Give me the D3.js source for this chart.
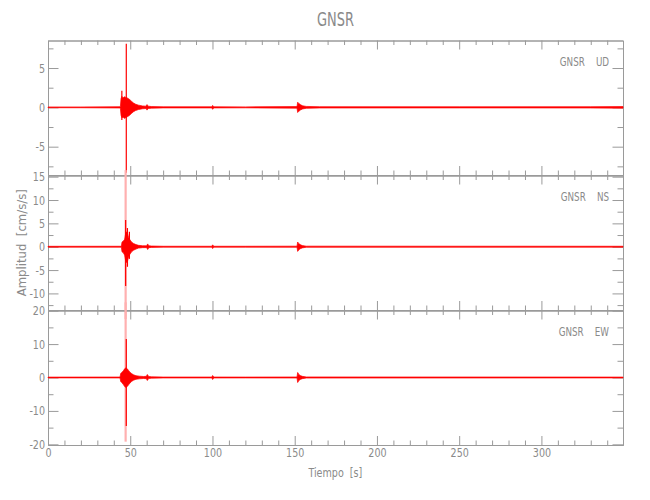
<!DOCTYPE html>
<html><head><meta charset="utf-8">
<script src="https://cdn.jsdelivr.net/npm/d3@7"></script>
<style>
body{margin:0;background:#fff}
svg text{font-family:"DejaVu Sans Condensed","DejaVu Sans",sans-serif;}
.sx{transform-box:fill-box;}
</style></head><body><svg id="c" width="650" height="500"></svg>
<script>
// ---------------- data ----------------
const stationName = "GNSR";
const componentNames = ["UD", "NS", "EW"];
const xLabel = "Tiempo  [s]";
const yLabel = "Amplitud  [cm/s/s]";
const timeDomain = [0, 349.6];
const xMajorTicks = [0, 50, 100, 150, 200, 250, 300];
const xMinorTicks = [10, 20, 30, 40, 60, 70, 80, 90, 110, 120, 130, 140, 160, 170, 180, 190, 210, 220, 230, 240, 260, 270, 280, 290, 310, 320, 330, 340];

const udDomain = [-8.6, 8.5];
const nsDomain = [-13.55, 15.25];
const ewDomain = [-20.2, 20.05];
const udMajorTicks = [-5, 0, 5];
const nsMajorTicks = [-10, -5, 0, 5, 10, 15];
const ewMajorTicks = [-20, -10, 0, 10, 20];
const udMinorTicks = [-7.5, -2.5, 2.5, 7.5];
const nsMinorTicks = [-12.5, -7.5, -2.5, 2.5, 7.5, 12.5];
const ewMinorTicks = [-15, -5, 5, 15];

// envelope of each trace (seconds, cm/s/s)
const udTime  = [0, 20, 44.0, 44.4, 44.9, 45.6, 46.3, 46.9, 47.5, 48.2, 49.0, 49.9, 50.9, 52.0, 53.3, 55.0, 57.5, 59.6, 60.2, 60.9, 63, 70, 99.6, 100.1, 100.8, 120, 151.4, 151.8, 152.5, 153.4, 154.8, 157, 165, 250, 330, 349.6];
const udUpper = [0.05, 0.05, 0.08, 1.1, 1.4, 1.2, 1.35, 1.3, 1.25, 1.2, 1.1, 0.95, 0.75, 0.55, 0.4, 0.28, 0.18, 0.15, 0.35, 0.15, 0.1, 0.07, 0.07, 0.25, 0.07, 0.06, 0.1, 0.65, 0.5, 0.35, 0.2, 0.12, 0.08, 0.07, 0.08, 0.1];
const udLower = [-0.05, -0.05, -0.08, -1.0, -1.3, -1.25, -1.4, -1.35, -1.3, -1.2, -1.1, -0.95, -0.75, -0.55, -0.4, -0.28, -0.18, -0.15, -0.35, -0.15, -0.1, -0.07, -0.07, -0.25, -0.07, -0.06, -0.1, -0.65, -0.5, -0.35, -0.2, -0.12, -0.08, -0.07, -0.08, -0.1];

const nsTime  = [0, 44.6, 45.0, 45.8, 46.6, 47.2, 47.8, 48.4, 49.0, 49.8, 50.8, 52, 53.5, 55, 57.5, 60, 60.6, 61.3, 63, 70, 99.6, 100.1, 100.8, 120, 151.4, 151.8, 152.4, 153.3, 154.6, 157, 349.6];
const nsUpper = [0.09, 0.1, 1.0, 1.2, 1.6, 2.8, 3.2, 2.8, 2.0, 1.5, 1.0, 0.7, 0.45, 0.3, 0.2, 0.2, 0.6, 0.2, 0.15, 0.1, 0.1, 0.4, 0.1, 0.1, 0.12, 1.0, 0.7, 0.45, 0.25, 0.12, 0.1];
const nsLower = [-0.09, -0.1, -1.1, -1.3, -1.8, -3.0, -3.4, -3.0, -2.2, -1.6, -1.1, -0.75, -0.5, -0.3, -0.2, -0.2, -0.6, -0.2, -0.15, -0.1, -0.1, -0.4, -0.1, -0.1, -0.12, -1.0, -0.7, -0.45, -0.25, -0.12, -0.1];

const ewTime  = [0, 43.8, 44.2, 45.0, 45.8, 46.6, 47.4, 48.2, 49.0, 49.8, 50.8, 52, 53.5, 55.5, 58, 59.8, 60.4, 61.2, 63, 70, 99.6, 100.1, 100.8, 120, 151.4, 151.8, 152.4, 153.3, 154.6, 157, 349.6];
const ewUpper = [0.12, 0.14, 1.2, 1.6, 2.0, 2.6, 2.9, 2.6, 2.1, 1.6, 1.2, 0.8, 0.55, 0.4, 0.3, 0.35, 0.9, 0.3, 0.2, 0.14, 0.14, 0.6, 0.14, 0.13, 0.15, 1.5, 1.0, 0.6, 0.35, 0.16, 0.13];
const ewLower = [-0.12, -0.14, -1.2, -1.6, -2.1, -2.7, -3.0, -2.7, -2.2, -1.7, -1.2, -0.8, -0.55, -0.4, -0.3, -0.35, -0.9, -0.3, -0.2, -0.14, -0.14, -0.6, -0.14, -0.13, -0.15, -1.5, -1.0, -0.6, -0.35, -0.16, -0.13];

// peak excursions (seconds, max, min)
const udPeakTime = [44.9, 47.6];
const udPeakMax  = [2.1, 8.1];
const udPeakMin  = [-1.6, -8.3];
const nsPeakTime = [47.2, 48.3, 49.5];
const nsPeakMax  = [5.7, 4.0, 3.2];
const nsPeakMin  = [-8.4, -4.3, -2.6];
const ewPeakTime = [47.6];
const ewPeakMax  = [11.5];
const ewPeakMin  = [-14.5];
// single-sample excursions
const nsSampleTime = [47.2];
const nsSampleMax  = [16.4];
const nsSampleMin  = [-15.5];
const ewSampleTime = [47.2];
const ewSampleMax  = [22.5];
const ewSampleMin  = [-19.2];

// --------------- drawing ---------------
const left = 48, right = 623;
const panelTops = [40.5, 175.5, 310.5];
const panelH = 134.5;
const axisColor = "#9a9a9a", textColor = "#8a8a8a", red = "#ff0000", pale = "#ffb0b0";

const svg = d3.select("#c");
const x = d3.scaleLinear().domain(timeDomain).range([left, right]);

const panels = [
  {name: componentNames[0], domain: udDomain, major: udMajorTicks, minor: udMinorTicks,
   t: udTime, up: udUpper, lo: udLower, pt: udPeakTime, pmax: udPeakMax, pmin: udPeakMin,
   st: [], smax: [], smin: []},
  {name: componentNames[1], domain: nsDomain, major: nsMajorTicks, minor: nsMinorTicks,
   t: nsTime, up: nsUpper, lo: nsLower, pt: nsPeakTime, pmax: nsPeakMax, pmin: nsPeakMin,
   st: nsSampleTime, smax: nsSampleMax, smin: nsSampleMin},
  {name: componentNames[2], domain: ewDomain, major: ewMajorTicks, minor: ewMinorTicks,
   t: ewTime, up: ewUpper, lo: ewLower, pt: ewPeakTime, pmax: ewPeakMax, pmin: ewPeakMin,
   st: ewSampleTime, smax: ewSampleMax, smin: ewSampleMin}
];

const fmt = d => d3.format("d")(d).replace("\u2212", "-");
const squeeze = (sel, s, origin) => sel.classed("sx", true)
  .style("transform-origin", origin).style("transform", `scaleX(${s})`);

panels.forEach((p, i) => {
  const top = panelTops[i], bot = top + panelH;
  const y = d3.scaleLinear().domain(p.domain).range([bot, top]);
  const g = svg.append("g");
  const isLast = i === panels.length - 1;

  const style = sel => {
    sel.attr("color", axisColor);
    sel.selectAll("text").attr("fill", textColor).attr("font-size", 12.5).attr("font-family", null);
  };
  // left
  g.append("g").attr("transform", `translate(${left},0)`)
    .call(d3.axisLeft(y).tickValues(p.major).tickSize(-10.5).tickSizeOuter(0).tickPadding(3).tickFormat(fmt)).call(style)
    .selectAll("text").call(squeeze, 0.85, "right center");
  g.append("g").attr("transform", `translate(${left},0)`)
    .call(d3.axisLeft(y).tickValues(p.minor).tickSize(-5.5).tickSizeOuter(0).tickFormat("")).call(style);
  // right
  g.append("g").attr("transform", `translate(${right},0)`)
    .call(d3.axisRight(y).tickValues(p.major).tickSize(-10.5).tickSizeOuter(0).tickFormat("")).call(style);
  g.append("g").attr("transform", `translate(${right},0)`)
    .call(d3.axisRight(y).tickValues(p.minor).tickSize(-5.5).tickSizeOuter(0).tickFormat("")).call(style);
  // top
  g.append("g").attr("transform", `translate(0,${top})`)
    .call(d3.axisTop(x).tickValues(xMajorTicks).tickSize(-9).tickSizeOuter(0).tickFormat("")).call(style);
  g.append("g").attr("transform", `translate(0,${top})`)
    .call(d3.axisTop(x).tickValues(xMinorTicks).tickSize(-4.5).tickSizeOuter(0).tickFormat("")).call(style);
  // bottom
  g.append("g").attr("transform", `translate(0,${bot})`)
    .call(d3.axisBottom(x).tickValues(xMajorTicks).tickSize(-9).tickSizeOuter(0).tickPadding(3)
      .tickFormat(isLast ? fmt : "")).call(style)
    .selectAll("text").call(squeeze, 0.85, "center center");
  g.append("g").attr("transform", `translate(0,${bot})`)
    .call(d3.axisBottom(x).tickValues(xMinorTicks).tickSize(-4.5).tickSizeOuter(0).tickFormat("")).call(style);

  // single-sample excursions (pale)
  g.selectAll(".samp").data(p.st.map((t, k) => ({t, hi: p.smax[k], lo: p.smin[k]})))
    .enter().append("line")
    .attr("x1", d => x(d.t)).attr("x2", d => x(d.t))
    .attr("y1", d => y(d.hi)).attr("y2", d => y(d.lo))
    .attr("stroke", pale).attr("stroke-width", 2.2);

  // envelope
  const env = p.t.map((t, k) => ({t, hi: p.up[k], lo: p.lo[k]}));
  g.append("path").datum(env)
    .attr("d", d3.area().x(d => x(d.t)).y0(d => y(d.lo)).y1(d => y(d.hi)))
    .attr("fill", red).attr("stroke", red).attr("stroke-width", 0.7);

  // peaks
  g.selectAll(".peak").data(p.pt.map((t, k) => ({t, hi: p.pmax[k], lo: p.pmin[k]})))
    .enter().append("line")
    .attr("x1", d => x(d.t)).attr("x2", d => x(d.t))
    .attr("y1", d => y(d.hi)).attr("y2", d => y(d.lo))
    .attr("stroke", red).attr("stroke-width", 1.2);

  // component label
  g.append("text").attr("x", 609).attr("y", top + 25.5)
    .attr("text-anchor", "end").attr("fill", textColor).attr("font-size", 12.5)
    .style("white-space", "pre")
    .text(stationName + "    " + p.name)
    .call(squeeze, 0.78, "right center");
});

// title
svg.append("text").attr("x", (left + right) / 2).attr("y", 26)
  .attr("text-anchor", "middle").attr("fill", textColor).attr("font-size", 20)
  .text(stationName).call(squeeze, 0.72, "center center");
// x label
svg.append("text").attr("x", (left + right) / 2).attr("y", 477)
  .attr("text-anchor", "middle").attr("fill", textColor).attr("font-size", 13)
  .style("white-space", "pre").text(xLabel).call(squeeze, 0.82, "center center");
// y label
svg.append("text").attr("transform", `translate(26,${(panelTops[0] + panelTops[2] + panelH) / 2}) rotate(-90)`)
  .attr("text-anchor", "middle").attr("fill", textColor).attr("font-size", 13)
  .style("white-space", "pre").text(yLabel);
</script></body></html>
